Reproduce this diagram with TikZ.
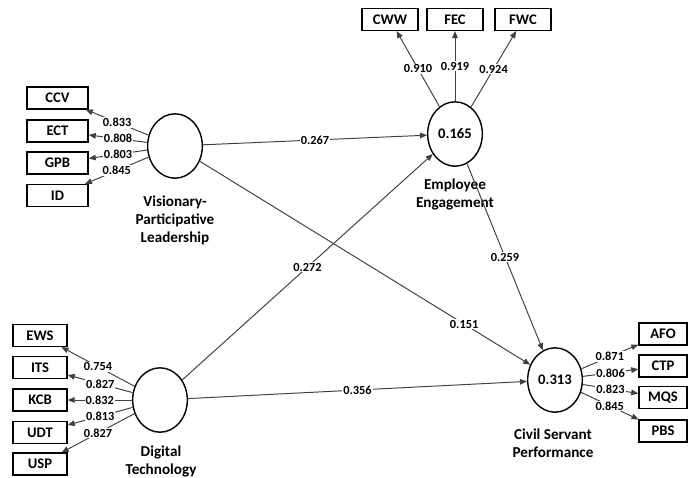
\documentclass[tikz,border=0pt]{standalone}
\usepackage{fontspec}
\setmainfont{Carlito}
\usetikzlibrary{arrows.meta}
\usetikzlibrary{shapes.geometric}

\tikzset{
  latent/.style={draw, ellipse, line width=0.8pt, minimum width=31pt, minimum height=36.5pt, inner sep=0pt, font=\bfseries\fontsize{8.3}{9}\selectfont},
  indicator/.style={draw, rectangle, line width=0.8pt, minimum height=12.3pt, inner sep=0pt, font=\bfseries\fontsize{8.3}{9}\selectfont},
  caption/.style={align=center, font=\bfseries\fontsize{8.6}{10.2}\selectfont},
  relation/.style={draw=black!75, line width=0.55pt, -{Triangle[length=4pt,width=3.2pt]}},
  coef/.style={fill=white, inner sep=0.6pt, font=\bfseries\fontsize{7}{7}\selectfont},
}

\begin{document}
\begin{tikzpicture}[x=0.567pt, y=-0.567pt]
\useasboundingbox (0,0) rectangle (688,477);

% latent variables
\node [latent] (vpl) at (175,146) {};
\node [latent] (ee) at (455,134) {0.165};
\node [latent] (dt) at (160,400) {};
\node [latent] (csp) at (555,380) {0.313};
\node [caption] (vpl-cap) at (175,220) {Visionary-\\Participative\\Leadership};
\node [caption] (ee-cap) at (455,194) {Employee\\Engagement};
\node [caption] (dt-cap) at (161,461) {Digital\\Technology};
\node [caption] (csp-cap) at (553,443) {Civil Servant\\Performance};

% indicators, visionary-participative leadership
\node [indicator, minimum width=34.6pt] (ccv) at (57.5,98) {CCV};
\node [indicator, minimum width=34.6pt] (ect) at (57.5,131) {ECT};
\node [indicator, minimum width=34.6pt] (gpb) at (57.5,163) {GPB};
\node [indicator, minimum width=34.6pt] (id) at (57.5,195.5) {ID};
\draw [relation] (vpl) -- node [coef] {0.833} (ccv);
\draw [relation] (vpl) -- node [coef] {0.808} (ect);
\draw [relation] (vpl) -- node [coef] {0.803} (gpb);
\draw [relation] (vpl) -- node [coef] {0.845} (id);

% indicators, employee engagement
\node [indicator, minimum width=31.8pt] (cww) at (390,19.5) {CWW};
\node [indicator, minimum width=31.8pt] (fec) at (455,19.5) {FEC};
\node [indicator, minimum width=31.8pt] (fwc) at (523,19.5) {FWC};
\draw [relation] (ee) -- node [coef] {0.910} (cww);
\draw [relation] (ee) -- node [coef] {0.919} (fec);
\draw [relation] (ee) -- node [coef] {0.924} (fwc);

% indicators, digital technology
\node [indicator, minimum width=30.6pt] (ews) at (40,335.5) {EWS};
\node [indicator, minimum width=30.6pt] (its) at (40,367.5) {ITS};
\node [indicator, minimum width=30.6pt] (kcb) at (40,400) {KCB};
\node [indicator, minimum width=30.6pt] (udt) at (40,432.5) {UDT};
\node [indicator, minimum width=30.6pt] (usp) at (40,464) {USP};
\draw [relation] (dt) -- node [coef] {0.754} (ews);
\draw [relation] (dt) -- node [coef] {0.827} (its);
\draw [relation] (dt) -- node [coef] {0.832} (kcb);
\draw [relation] (dt) -- node [coef] {0.813} (udt);
\draw [relation] (dt) -- node [coef] {0.827} (usp);

% indicators, civil servant performance
\node [indicator, minimum width=27.2pt] (afo) at (663,334) {AFO};
\node [indicator, minimum width=27.2pt] (ctp) at (663,366) {CTP};
\node [indicator, minimum width=27.2pt] (mqs) at (663,397.5) {MQS};
\node [indicator, minimum width=27.2pt] (pbs) at (663,431) {PBS};
\draw [relation] (csp) -- node [coef] {0.871} (afo);
\draw [relation] (csp) -- node [coef] {0.806} (ctp);
\draw [relation] (csp) -- node [coef] {0.823} (mqs);
\draw [relation] (csp) -- node [coef] {0.845} (pbs);

% structural paths
\draw [relation] (vpl) -- node [coef] {0.267} (ee);
\draw [relation] (vpl) -- node [coef, pos=0.8] {0.151} (csp);
\draw [relation] (dt) -- node [coef] {0.272} (ee);
\draw [relation] (dt) -- node [coef] {0.356} (csp);
\draw [relation] (ee) -- node [coef] {0.259} (csp);

\end{tikzpicture}
\end{document}
